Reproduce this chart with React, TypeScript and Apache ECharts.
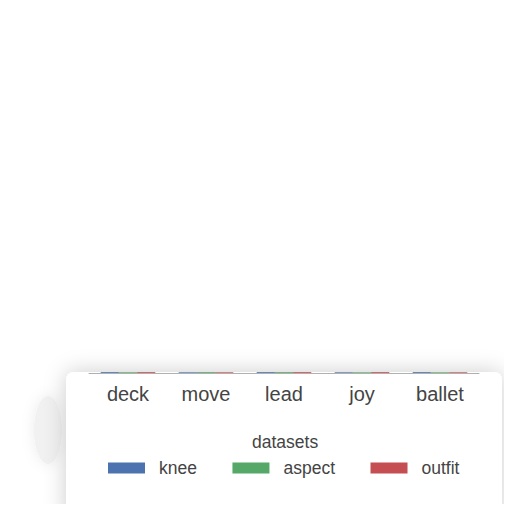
import { useEffect, useRef } from "react";
import * as echarts from "echarts";

// categories along the x axis
const categories = ["deck", "move", "lead", "joy", "ballet"];

// series names and values (bars are nearly flat in the reference)
const seriesNames = ["knee", "aspect", "outfit"];
const kneeValues = [0.6, 0.5, 0.6, 0.5, 0.6];
const aspectValues = [0.5, 0.6, 0.6, 0.5, 0.5];
const outfitValues = [0.6, 0.5, 0.6, 0.6, 0.5];
const seriesColors = ["#4c72b0", "#55a868", "#c44e52"];

const App = () => {
  const chartRef = useRef<HTMLDivElement>(null);

  useEffect(() => {
    if (!chartRef.current) return;
    const chart = echarts.init(chartRef.current, null, { renderer: "svg" });
    const values = [kneeValues, aspectValues, outfitValues];

    chart.setOption({
      animation: false,
      backgroundColor: "#ffffff",
      textStyle: { fontFamily: "Liberation Sans" },
      title: {
        text: "datasets",
        left: 247,
        top: 428,
        textStyle: { fontSize: 17.5, fontWeight: "normal", color: "#444444" },
      },
      legend: {
        data: seriesNames,
        left: 103,
        top: 454,
        itemWidth: 37,
        itemHeight: 11,
        itemGap: 35.5,
        icon: "rect",
        textStyle: { fontSize: 17.5, color: "#444444", padding: [0, 0, 0, 9] },
      },
      graphic: [
        {
          type: "rect",
          shape: { x: 66, y: 372, width: 436, height: 150, r: 8 },
          style: {
            fill: "#ffffff",
            shadowBlur: 22,
            shadowColor: "rgba(0,0,0,0.2)",
          },
          z: -10,
        },
        {
          type: "ellipse",
          shape: { cx: 48, cy: 430, rx: 14, ry: 34 },
          style: {
            fill: "#f1f1f1",
            shadowBlur: 14,
            shadowColor: "rgba(0,0,0,0.08)",
          },
          z: -11,
        },
      ],
      grid: { left: 89, right: 33, top: 20, bottom: 139 },
      xAxis: {
        type: "category",
        data: categories,
        axisLine: { lineStyle: { color: "#b0b0b0", width: 1 } },
        axisTick: { show: false },
        axisLabel: { fontSize: 20, color: "#444444", margin: 11 },
      },
      yAxis: {
        type: "value",
        min: 0,
        max: 250,
        show: false,
        splitLine: { show: false },
      },
      series: seriesNames.map((name, i) => ({
        name,
        type: "bar",
        data: values[i],
        barGap: "0%",
        barCategoryGap: "30%",
        itemStyle: { color: seriesColors[i] },
      })),
    });

    return () => chart.dispose();
  }, []);

  return <div ref={chartRef} style={{ width: 512, height: 512, margin: -8 }} />;
};

export default App;
